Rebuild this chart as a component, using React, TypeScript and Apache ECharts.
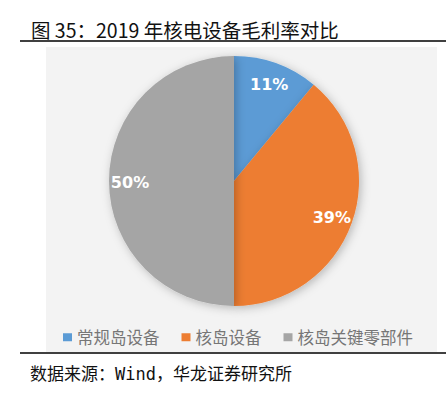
import React, { useEffect, useRef } from "react";
import * as echarts from "echarts";

const categories = ["常规岛设备", "核岛设备", "核岛关键零部件"];
const values = [11, 39, 50];
const colors = ["#5B9BD5", "#ED7D31", "#A5A5A5"];
const titleText = "图 35：2019 年核电设备毛利率对比";
const sourceText = "数据来源：Wind，华龙证券研究所";

export default function App() {
  const ref = useRef<HTMLDivElement>(null);
  useEffect(() => {
    if (!ref.current) return;
    const chart = echarts.init(ref.current, undefined, { renderer: "svg" });
    const data = categories.map((name, i) => ({
      name,
      value: values[i],
      itemStyle: { color: colors[i] },
    }));
    chart.setOption({
      animation: false,
      backgroundColor: "#ffffff",
      graphic: [
        {
          type: "rect",
          z: -10,
          shape: { x: 46, y: 47, width: 391, height: 305 },
          style: { fill: "#f3f3f3" },
        },
        {
          type: "line",
          shape: { x1: 20, y1: 41, x2: 446, y2: 41 },
          style: { stroke: "#404040", lineWidth: 2 },
        },
        {
          type: "line",
          shape: { x1: 20, y1: 353, x2: 446, y2: 353 },
          style: { stroke: "#404040", lineWidth: 2 },
        },
        {
          type: "text",
          x: 31,
          y: 29,
          style: {
            text: titleText,
            fill: "#111111",
            font: "19.5px 'Noto Sans CJK SC', sans-serif",
            textVerticalAlign: "middle",
          },
        },
        {
          type: "text",
          x: 30,
          y: 374,
          style: {
            text: sourceText,
            fill: "#111111",
            font: "17px 'DejaVu Sans Mono', 'Noto Sans CJK SC', monospace",
            textVerticalAlign: "middle",
          },
        },
      ],
      legend: {
        left: 58,
        top: 324,
        itemWidth: 9,
        itemHeight: 8,
        itemGap: 22,
        icon: "rect",
        textStyle: {
          fontSize: 16.5,
          color: "#767676",
          fontFamily: "'Noto Sans CJK SC', sans-serif",
        },
        data: categories.map((name, i) => ({ name, itemStyle: { color: colors[i] } })),
      },
      series: [
        {
          type: "pie",
          center: [234, 181],
          radius: [0, 125],
          startAngle: 90,
          clockwise: true,
          label: { show: false },
          labelLine: { show: false },
          itemStyle: {
            shadowBlur: 10,
            shadowColor: "rgba(0,0,0,0.25)",
            shadowOffsetX: 2,
            shadowOffsetY: 2,
          },
          emphasis: { disabled: true },
          data,
        },
        {
          type: "pie",
          center: [234, 182],
          radius: [78, 124],
          startAngle: 90,
          clockwise: true,
          silent: true,
          itemStyle: { color: "transparent" },
          label: {
            show: true,
            position: "inside",
            formatter: "{c}%",
            color: "#ffffff",
            fontSize: 16,
            fontWeight: "bold",
            fontFamily: "'DejaVu Sans', sans-serif",
          },
          labelLine: { show: false },
          emphasis: { disabled: true },
          data: categories.map((name, i) => ({
            name,
            value: values[i],
            itemStyle: { color: "transparent" },
          })),
        },
      ],
    });
    return () => chart.dispose();
  }, []);
  return (
    <div
      ref={ref}
      style={{ position: "fixed", left: 0, top: 0, width: 446, height: 398 }}
    />
  );
}
